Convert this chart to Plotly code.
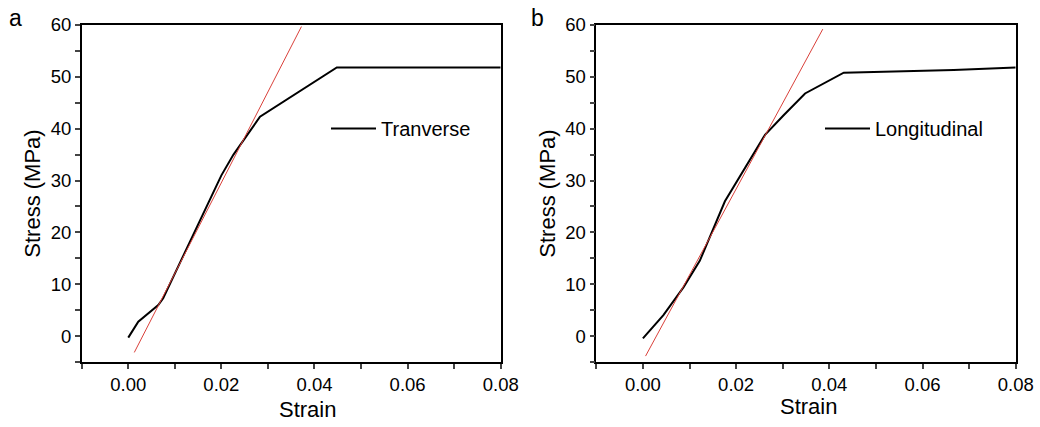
import plotly.graph_objects as go

# Panel a: Transverse
strain_a = [0.0, 0.00215, 0.00645, 0.0075, 0.0200, 0.0226, 0.0283, 0.0448, 0.0800]
stress_a = [-0.3, 2.77, 5.98, 7.3, 31.0, 35.0, 42.3, 51.8, 51.8]
fit_a_x = [0.0013, 0.0372]
fit_a_y = [-3.15, 59.7]

# Panel b: Longitudinal
strain_b = [0.0, 0.0044, 0.0087, 0.0122, 0.0176, 0.0208, 0.0262, 0.0302, 0.0348, 0.0431, 0.0524, 0.0667, 0.0800]
stress_b = [-0.45, 4.05, 9.4, 14.5, 26.0, 30.7, 38.8, 42.6, 46.8, 50.8, 51.0, 51.3, 51.8]
fit_b_x = [0.00057, 0.0386]
fit_b_y = [-3.86, 59.2]

FONT = "Liberation Sans, Arial, sans-serif"
W, H = 1040, 427

def px(sx):
    return sx / W

def py(sy):
    return 1 - sy / H

fig = go.Figure()
fig.add_trace(go.Scatter(x=strain_a, y=stress_a, mode="lines", name="Tranverse",
                         line=dict(color="black", width=2), xaxis="x", yaxis="y",
                         legend="legend"))
fig.add_trace(go.Scatter(x=fit_a_x, y=fit_a_y, mode="lines", showlegend=False,
                         line=dict(color="#d9403a", width=1), xaxis="x", yaxis="y"))
fig.add_trace(go.Scatter(x=strain_b, y=stress_b, mode="lines", name="Longitudinal",
                         line=dict(color="black", width=2), xaxis="x2", yaxis="y2",
                         legend="legend2"))
fig.add_trace(go.Scatter(x=fit_b_x, y=fit_b_y, mode="lines", showlegend=False,
                         line=dict(color="#d9403a", width=1), xaxis="x2", yaxis="y2"))

yd = [py(362), py(25)]
xa = [px(81.7), px(500.7)]
xb = [px(596.3), px(1015.7)]

def xaxis(dom, anchor):
    return dict(domain=dom, anchor=anchor, range=[-0.01, 0.08], tick0=0, dtick=0.02,
                tickformat=".2f", ticks="outside", ticklen=5, tickwidth=1.5,
                showline=True, linecolor="black", linewidth=1.5, mirror=True,
                showgrid=False, zeroline=False, automargin=False, ticklabeloverflow="allow",
                minor=dict(ticks="outside", ticklen=5, tickwidth=1.5, dtick=0.01, tick0=0, showgrid=False),
                tickfont=dict(family=FONT, size=18.5, color="black"))

def yaxis(dom, anchor):
    return dict(domain=dom, anchor=anchor, range=[-5, 60], tick0=0, dtick=10,
                ticks="outside", ticklen=5, tickwidth=1.5,
                showline=True, linecolor="black", linewidth=1.5, mirror=True,
                showgrid=False, zeroline=False, automargin=False, ticklabeloverflow="allow",
                minor=dict(ticks="outside", ticklen=5, tickwidth=1.5, dtick=5, tick0=0, showgrid=False),
                tickfont=dict(family=FONT, size=18.5, color="black"),
                title=dict(text="Stress (MPa)", font=dict(family=FONT, size=22, color="black"), standoff=4))

title_font = dict(family=FONT, size=22, color="black")
fig.update_layout(
    width=W, height=H, margin=dict(l=0, r=0, t=0, b=0),
    paper_bgcolor="white", plot_bgcolor="white",
    xaxis=xaxis(xa, "y"), yaxis=yaxis(yd, "x"),
    xaxis2=xaxis(xb, "y2"), yaxis2=yaxis(yd, "x2"),
    legend=dict(x=px(326), y=py(109), xanchor="left", yanchor="top",
                bgcolor="rgba(0,0,0,0)", font=dict(family=FONT, size=20, color="black"),
                itemwidth=45),
    legend2=dict(x=px(820), y=py(109), xanchor="left", yanchor="top",
                 bgcolor="rgba(0,0,0,0)", font=dict(family=FONT, size=20, color="black"),
                 itemwidth=45),
    annotations=[
        dict(text="a", x=px(15), y=py(18), xref="paper", yref="paper", showarrow=False,
             xanchor="center", yanchor="middle", font=dict(family=FONT, size=23, color="black")),
        dict(text="b", x=px(537), y=py(18), xref="paper", yref="paper", showarrow=False,
             xanchor="center", yanchor="middle", font=dict(family=FONT, size=23, color="black")),
        dict(text="Strain", x=px(307), y=py(409), xref="paper", yref="paper", showarrow=False,
             xanchor="center", yanchor="middle", font=title_font),
        dict(text="Strain", x=px(808), y=py(406), xref="paper", yref="paper", showarrow=False,
             xanchor="center", yanchor="middle", font=title_font),
    ],
)

fig.write_html("out.html", config={"displayModeBar": False},
               post_script="document.body.style.margin='0';")
